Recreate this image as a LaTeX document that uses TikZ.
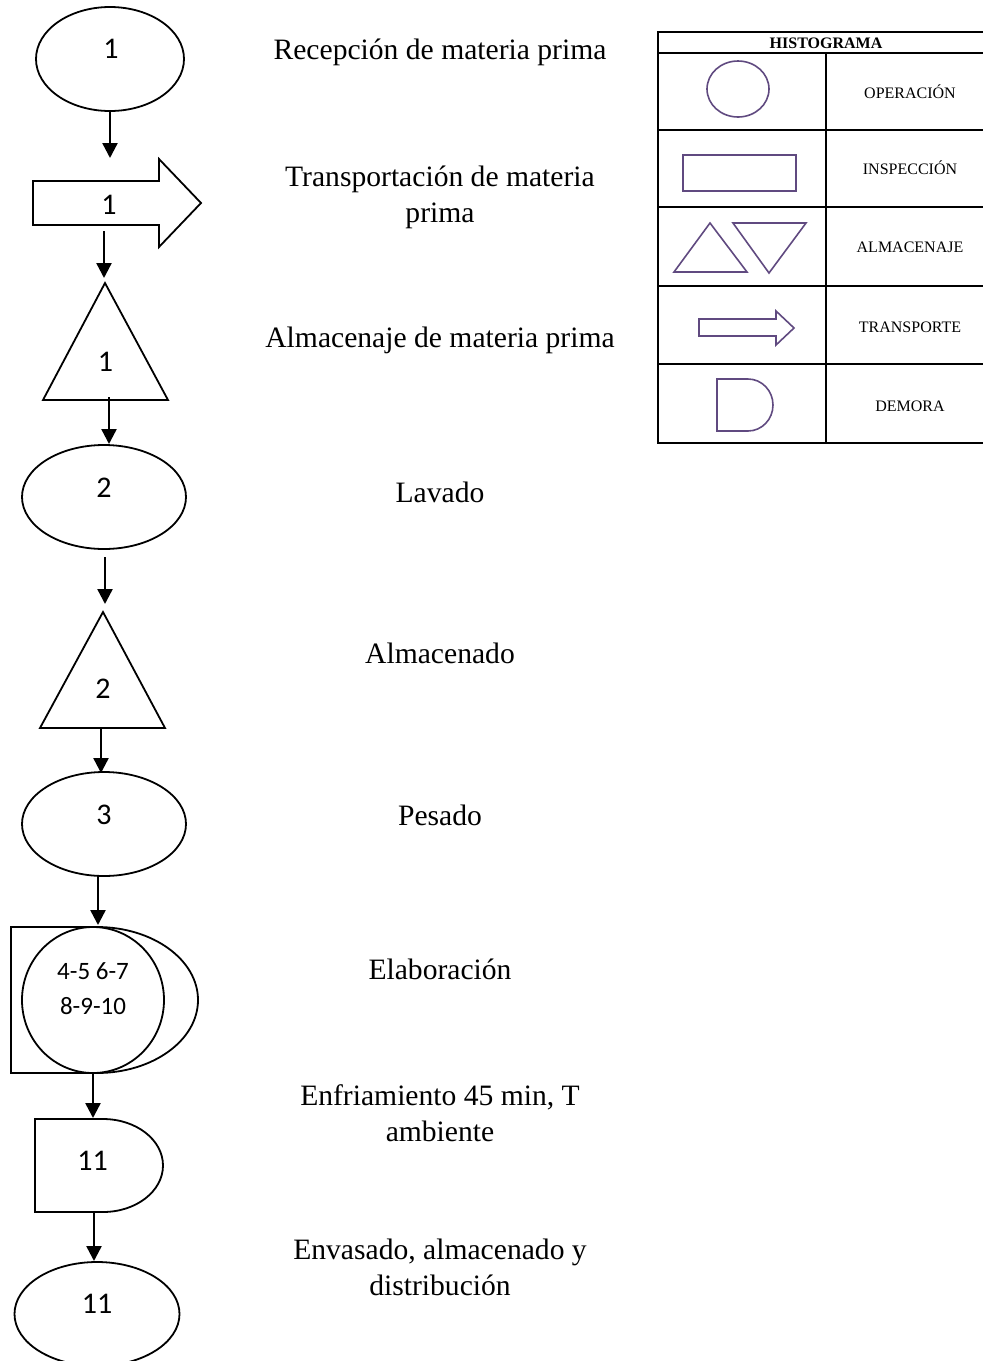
\documentclass[tikz,border=0pt]{standalone}
\usepackage{fontspec}
\setmainfont{Liberation Serif}
\newfontfamily\numfont{Carlito}
\usetikzlibrary{arrows.meta,shapes.geometric}
\definecolor{legpurple}{RGB}{96,74,128}
\tikzset{
  shape line/.style={draw=black, line width=1.8pt, fill=white, line join=miter},
  operation/.style={shape line, ellipse, inner sep=0pt},
  num/.style={inner sep=0pt, font=\numfont\fontsize{30}{34}\selectfont},
  smallnum/.style={inner sep=0pt, align=center, font=\numfont\fontsize{25}{35}\selectfont},
  flow/.style={line width=2.4pt, -{Triangle[length=15pt,width=15pt]}},
  steplabel/.style={anchor=base, inner sep=0pt, align=center, font=\fontsize{29.6}{36}\selectfont},
  grid/.style={draw=black, line width=1.4pt},
  legshape/.style={draw=legpurple, line width=1.6pt, inner sep=0pt},
  legtext/.style={anchor=base, inner sep=0pt, font=\fontsize{16}{19}\selectfont},
}
\begin{document}
\begin{tikzpicture}[x=1pt,y=-1pt]
\useasboundingbox (0,0) rectangle (983,1361);
\clip (0,0) rectangle (983,1361);

% ---------- process chart ----------
% 1: reception (operation)
\node[operation, minimum width=148pt, minimum height=104pt] (op1) at (110,59) {};
\node[num] (op1n) at (111,49) {1};

% 1: transport (block arrow)
\draw[shape line] (33,181) -- (159,181) -- (159,159) -- (201,203) -- (159,247) -- (159,225) -- (33,225) -- cycle;
\node[num] (tr1n) at (109,205) {1};
\coordinate (tr1in) at (110,158);
\coordinate (tr1out) at (104,231);

% 1: storage (triangle)
\draw[shape line] (105,283) -- (168,400) -- (43,400) -- cycle;
\node[num] (st1n) at (105.5,362) {1};
\coordinate (st1in) at (104,278);
\coordinate (st1out) at (109,397);

% 2: washing (operation)
\node[operation, minimum width=164pt, minimum height=104pt] (op2) at (104,497) {};
\node[num] (op2n) at (104,488) {2};
\coordinate (op2in) at (109,444);
\coordinate (op2out) at (105,557);

% 2: storage (triangle)
\draw[shape line] (103,612) -- (165,728) -- (40,728) -- cycle;
\node[num] (st2n) at (103,689) {2};
\coordinate (st2in) at (105,604);
\coordinate (st2out) at (101,728);

% 3: weighing (operation)
\node[operation, minimum width=164pt, minimum height=104pt] (op3) at (104,824) {};
\node[num] (op3n) at (104,815) {3};
\coordinate (op3in) at (101,773);
\coordinate (op3out) at (98,876);

% 4-10: processing (delay outline with operation circle)
\draw[shape line] (11,927) -- (97,927) arc[start angle=90, end angle=-90, x radius=101pt, y radius=73pt] -- (11,1073) -- cycle;
\node[operation, minimum width=142pt, minimum height=146pt] (op4) at (93,1000) {};
\node[smallnum] (op4n) at (93,988.5) {4-5 6-7\\8-9-10};
\coordinate (op4in) at (98,925);
\coordinate (op4out) at (93,1073);

% 11: cooling (delay)
\draw[shape line] (35,1119) -- (103,1119) arc[start angle=90, end angle=-90, x radius=60pt, y radius=46.5pt] -- (35,1212) -- cycle;
\node[num] (de11n) at (92.5,1160.5) {11};
\coordinate (de11in) at (93,1118);
\coordinate (de11out) at (94,1213);

% 11: packing (operation)
\node[operation, minimum width=165pt, minimum height=104pt] (op11) at (97,1314) {};
\node[num] (op11n) at (97,1304) {11};
\coordinate (op11in) at (94,1261);

% connectors
\draw[flow] (op1.south) -- (tr1in);
\draw[flow] (tr1out) -- (st1in);
\draw[flow] (st1out) -- (op2in);
\draw[flow] (op2out) -- (st2in);
\draw[flow] (st2out) -- (op3in);
\draw[flow] (op3out) -- (op4in);
\draw[flow] (op4out) -- (de11in);
\draw[flow] (de11out) -- (op11in);

% step descriptions (base anchor sits on the last line)
\node[steplabel] (l1) at (440,59) {Recepción de materia prima};
\node[steplabel] (l2) at (440,222) {Transportación de materia\\prima};
\node[steplabel] (l3) at (440,347) {Almacenaje de materia prima};
\node[steplabel] (l4) at (440,502) {Lavado};
\node[steplabel] (l5) at (440,663) {Almacenado};
\node[steplabel] (l6) at (440,825) {Pesado};
\node[steplabel] (l7) at (440,979) {Elaboración};
\node[steplabel] (l8) at (440,1141) {Enfriamiento 45 min, T\\ambiente};
\node[steplabel] (l9) at (440,1295) {Envasado, almacenado y\\distribución};

% ---------- legend table ----------
\draw[grid] (658,32) rectangle (994,443);
\foreach \yy in {53,130,207,286,364} \draw[grid] (658,\yy) -- (994,\yy);
\draw[grid] (826,53) -- (826,443);
\node[legtext, font=\bfseries\fontsize{16}{19}\selectfont] (lgh) at (826,48) {HISTOGRAMA};

\node[legshape, ellipse, minimum width=62pt, minimum height=56pt] (lgop) at (738,89) {};
\node[legshape, rectangle, minimum width=113pt, minimum height=36pt] (lgin) at (739.5,173) {};
\draw[legshape] (674,272) -- (710,223) -- (747,272) -- cycle;
\draw[legshape] (733,223) -- (806,223) -- (769,273) -- cycle;
\draw[legshape] (699,319) -- (776,319) -- (776,311) -- (794,328) -- (776,345) -- (776,336) -- (699,336) -- cycle;
\draw[legshape] (717,379) -- (748,379) arc[start angle=90, end angle=-90, x radius=25pt, y radius=26pt] -- (717,431) -- cycle;

\node[legtext] (lt1) at (910,98) {OPERACIÓN};
\node[legtext] (lt2) at (910,174) {INSPECCIÓN};
\node[legtext] (lt3) at (910,252) {ALMACENAJE};
\node[legtext] (lt4) at (910,332) {TRANSPORTE};
\node[legtext] (lt5) at (910,411) {DEMORA};
\end{tikzpicture}
\end{document}
